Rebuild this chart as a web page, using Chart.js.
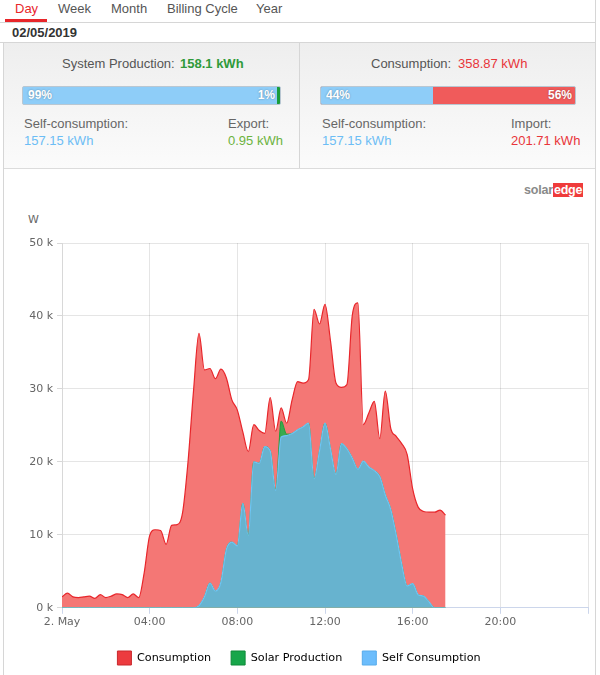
<!DOCTYPE html>
<html>
<head>
<meta charset="utf-8">
<script src="https://cdn.jsdelivr.net/npm/chart.js@4.4.0/dist/chart.umd.min.js"></script>
<style>
  html,body{margin:0;padding:0;background:#fff;}
  body{width:600px;height:675px;position:relative;overflow:hidden;font-family:"Liberation Sans",Arial,sans-serif;}
  .abs{position:absolute;white-space:nowrap;}
  .tab{top:1px;font-size:13px;line-height:16px;color:#555;}
  .t13{font-size:13px;line-height:16px;}
  .lbl{color:#666;}
  .bar{position:absolute;height:17px;border-radius:2px;overflow:hidden;border:1px solid #b9c7d2;}
  .pct{position:absolute;top:0;font-size:12px;line-height:17px;font-weight:bold;color:#fff;text-shadow:0 0 2px rgba(0,0,0,0.35);}
</style>
</head>
<body>
<!-- navigation -->
<div class="abs tab" style="left:15px;color:#e8262a;">Day</div>
<div class="abs tab" style="left:58px;">Week</div>
<div class="abs tab" style="left:111px;">Month</div>
<div class="abs tab" style="left:167px;">Billing Cycle</div>
<div class="abs tab" style="left:256px;">Year</div>
<div class="abs" style="left:5px;top:19px;width:42px;height:3px;background:#e8262a;"></div>
<div class="abs" style="left:0;top:22px;width:596px;height:1px;background:#d6d6d6;"></div>
<div class="abs" style="left:595px;top:0;width:1px;height:675px;background:#d6d6d6;"></div>
<div class="abs t13" style="left:12px;top:25px;font-weight:bold;color:#333;">02/05/2019</div>
<div class="abs" style="left:0;top:42px;width:596px;height:1px;background:#d6d6d6;"></div>
<div class="abs" style="left:3px;top:42px;width:1px;height:633px;background:#d6d6d6;"></div>

<!-- panels -->
<div class="abs" style="left:4px;top:43px;width:591px;height:125px;background:linear-gradient(#eeeeee,#fbfbfb);"></div>
<div class="abs" style="left:299px;top:43px;width:1px;height:125px;background:#d6d6d6;"></div>
<div class="abs" style="left:4px;top:168px;width:591px;height:1px;background:#dcdcdc;"></div>

<div class="abs t13" style="left:62px;top:56px;color:#555;">System Production:</div>
<div class="abs t13" style="left:180px;top:56px;color:#2f9a3a;font-weight:bold;">158.1 kWh</div>
<div class="bar" style="left:22px;top:86px;width:257px;background:#8ecdf8;">
  <div class="abs" style="right:0;top:0;width:3px;height:17px;background:#1a9c3a;"></div>
  <div class="pct" style="left:5px;">99%</div>
  <div class="pct" style="right:5px;">1%</div>
</div>
<div class="abs t13 lbl" style="left:24px;top:116px;">Self-consumption:</div>
<div class="abs t13" style="left:24px;top:133px;color:#6cbdf5;">157.15 kWh</div>
<div class="abs t13 lbl" style="left:228px;top:116px;">Export:</div>
<div class="abs t13" style="left:228px;top:133px;color:#6cb33e;">0.95 kWh</div>

<div class="abs t13" style="left:371px;top:56px;color:#555;">Consumption:</div>
<div class="abs t13" style="left:458px;top:56px;color:#e8353a;">358.87 kWh</div>
<div class="bar" style="left:320px;top:86px;width:254px;background:#f05b5b;">
  <div class="abs" style="left:0;top:0;width:112px;height:17px;background:#8ecdf8;"></div>
  <div class="pct" style="left:5px;">44%</div>
  <div class="pct" style="right:3px;">56%</div>
</div>
<div class="abs t13 lbl" style="left:322px;top:116px;">Self-consumption:</div>
<div class="abs t13" style="left:322px;top:133px;color:#6cbdf5;">157.15 kWh</div>
<div class="abs t13 lbl" style="left:511px;top:116px;">Import:</div>
<div class="abs t13" style="left:511px;top:133px;color:#e8353a;">201.71 kWh</div>

<!-- logo -->
<div class="abs" style="left:524px;top:183px;font-size:12.5px;line-height:14px;font-weight:bold;color:#8a8a8a;letter-spacing:-0.2px;">solar<span style="background:#ef3b3b;color:#fff;padding:0 1px;">edge</span></div>

<!-- unit -->
<div class="abs" style="left:28px;top:213px;font-family:'DejaVu Sans',sans-serif;font-size:11px;line-height:14px;color:#666;">W</div>

<div class="abs" style="left:4px;top:228px;width:591px;height:447px;">
  <canvas id="chart"></canvas>
</div>

<script>
// ---- data (15‑minute intervals, watts) ----
const times = ["00:00","00:15","00:30","00:45","01:00","01:15","01:30","01:45","02:00","02:15","02:30","02:45",
  "03:00","03:15","03:30","03:45","04:00","04:15","04:30","04:45","05:00","05:15","05:30","05:45",
  "06:00","06:15","06:30","06:45","07:00","07:15","07:30","07:45","08:00","08:15","08:30","08:45",
  "09:00","09:15","09:30","09:45","10:00","10:15","10:30","10:45","11:00","11:15","11:30","11:45",
  "12:00","12:15","12:30","12:45","13:00","13:15","13:30","13:45","14:00","14:15","14:30","14:45",
  "15:00","15:15","15:30","15:45","16:00","16:15","16:30","16:45","17:00","17:15","17:30"];

const consumption = [1500,2000,1500,1400,1500,1600,1300,1800,1400,1600,1900,1800,
  1400,1900,1400,4800,9900,10700,10600,8700,11300,11400,13000,20000,
  29700,37600,32600,32800,31400,32700,31500,28500,27100,24100,21400,25100,
  24300,23900,28800,24200,27400,25300,28500,31000,30800,31300,40900,38900,
  41600,36600,30800,30200,30600,40200,41800,25100,26700,28300,23200,29700,
  24600,23500,22500,21000,16300,13800,13200,13100,13100,13400,12700];

const selfConsumption = [0,0,0,0,0,0,0,0,0,0,0,0,
  0,0,0,0,0,0,0,0,0,0,0,0,
  0,300,1500,3400,2300,3500,8000,9000,8500,14300,9900,20000,
  19800,22100,21500,16100,23400,23600,23900,24400,24800,25300,17700,21500,
  25300,21800,18300,22500,21800,20500,19000,20100,19300,18800,18000,15500,
  13500,10000,6000,3000,3300,1800,1600,800,0,0,0];

const solarProduction = [0,0,0,0,0,0,0,0,0,0,0,0,
  0,0,0,0,0,0,0,0,0,0,0,0,
  0,300,1500,3400,2300,3500,8000,9000,8500,14300,9900,20000,
  19800,22100,21500,16100,25600,23800,23900,24400,24800,25300,17700,21500,
  25300,21800,18300,22500,21800,20500,19000,20100,19300,18800,18000,15500,
  13500,10000,6000,3000,3300,1800,1600,800,0,0,0];

const seriesNames = ["Consumption","Solar Production","Self Consumption"];
const tickLabels = ["2. May","04:00","08:00","12:00","16:00","20:00",""];
const yTickLabels = ["0 k","10 k","20 k","30 k","40 k","50 k"];

function toHours(t){const p=t.split(":");return +p[0]+(+p[1])/60;}
function pts(vals){return vals.map((v,i)=>({x:toHours(times[i]),y:v}));}

const legendColors = [
  {fill:"#ec3b3f",stroke:"#c9282d"},
  {fill:"#17a64a",stroke:"#0f8a39"},
  {fill:"#6cbdfc",stroke:"#58aceb"}
];
const FONT = "'DejaVu Sans', sans-serif";

new Chart(document.getElementById("chart"), {
  type: "line",
  data: {
    datasets: [
      {label: seriesNames[2], data: pts(selfConsumption), borderColor:"#6fc4f4", backgroundColor:"#67b3cf",
        borderWidth:1.2, fill:"origin", pointRadius:0, cubicInterpolationMode:"monotone"},
      {label: seriesNames[1], data: pts(solarProduction), borderColor:"#1f9e3e", backgroundColor:"#3aa94e",
        borderWidth:1, fill:"origin", pointRadius:0, cubicInterpolationMode:"monotone"},
      {label: seriesNames[0], data: pts(consumption), borderColor:"#e8262b", backgroundColor:"#f47775",
        borderWidth:1.2, fill:"origin", pointRadius:0, cubicInterpolationMode:"monotone"}
    ]
  },
  options: {
    responsive: true,
    maintainAspectRatio: false,
    animation: false,
    layout: {padding: {top: 15, right: 7, left: 6, bottom: 0}},
    plugins: {
      tooltip: {enabled: false},
      legend: {
        position: "bottom",
        onClick: null,
        labels: {
          font: {family: FONT, size: 11.2},
          color: "#333",
          boxWidth: 14, boxHeight: 14, padding: 20,
          generateLabels: (chart) => seriesNames.map((name, i) => ({
            text: name,
            fillStyle: legendColors[i].fill,
            strokeStyle: legendColors[i].stroke,
            lineWidth: 1,
            hidden: false,
            datasetIndex: 2 - i
          }))
        }
      }
    },
    scales: {
      x: {
        type: "linear", min: 0, max: 24, z: 1,
        grid: {color: "rgba(0,0,0,0.1)", tickColor: "#ccd6eb", tickLength: 6, drawOnChartArea: true},
        border: {color: "#ccd6eb", width: 1},
        ticks: {stepSize: 4, autoSkip: false, maxRotation: 0, padding: 2, color: "#666",
          font: {family: FONT, size: 11},
          callback: (v) => tickLabels[Math.round(v / 4)]}
      },
      y: {
        min: 0, max: 50000, z: 1,
        afterFit: (s) => { s.width = 52; },
        grid: {color: "rgba(0,0,0,0.1)", tickColor: "#d8d8d8", tickLength: 5},
        border: {color: "#d8d8d8", width: 1},
        ticks: {stepSize: 10000, padding: 4, color: "#666",
          font: {family: FONT, size: 11},
          callback: (v) => yTickLabels[Math.round(v / 10000)]}
      }
    }
  }
});
</script>
</body>
</html>
